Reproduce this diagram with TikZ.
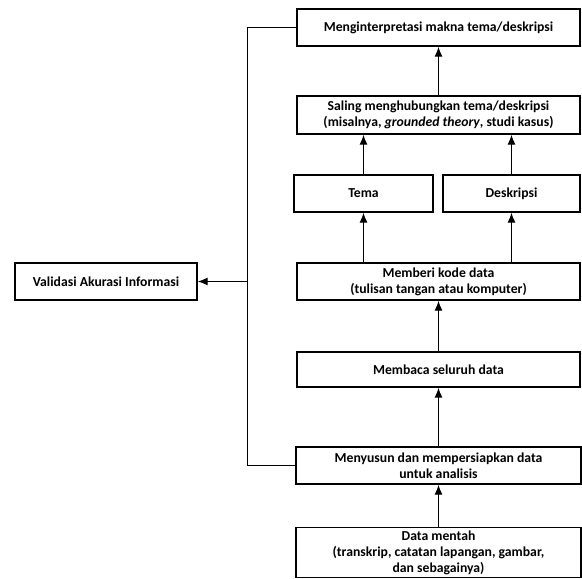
\documentclass[tikz,border=0pt]{standalone}
\usepackage{fontspec}
\setmainfont{Carlito}
\usetikzlibrary{positioning,arrows.meta}

\begin{document}
\begin{tikzpicture}[x=1pt,y=1pt,
    block/.style={rectangle,draw,line width=1.3pt,minimum width=283pt,
		minimum height=37pt,align=center,inner sep=2pt,
		font=\fontsize{13.7}{16}\selectfont\bfseries},
% Arrow style
    link/.style={->,line width=1.2pt},
    ]
   \useasboundingbox (0,0) rectangle (582,579);
%%% Draw analysis steps
   \begin{scope}[node distance=1cm,on grid,>={Latex[length=10pt,width=8pt]}]
       \node [block] (interp) at (438.5,551.5) {Menginterpretasi makna tema/deskripsi};
       \node [block,minimum height=38pt] (saling) [below=87.5pt of interp] {Saling menghubungkan tema/deskripsi\\(misalnya, \textit{grounded theory}, studi kasus)};
       \node [block,minimum width=139pt] (tema) [below left=78.5pt and 75pt of saling] {Tema};
       \node [block,minimum width=137pt] (deskripsi) [below right=78.5pt and 73pt of saling] {Deskripsi};
       \node [block] (kode) [below=166.5pt of saling] {Memberi kode data\\(tulisan tangan atau komputer)};
       \node [block,minimum height=35pt] (baca) [below=88pt of kode] {Membaca seluruh data};
       \node [block,minimum width=285pt] (susun) [below=96pt of baca] {Menyusun dan mempersiapkan data\\untuk analisis};
       \node [block,minimum width=285pt,minimum height=50pt] (mentah) [below=87pt of susun] {Data mentah\\(transkrip, catatan lapangan, gambar,\\dan sebagainya)};
       \node [block,minimum width=182pt] (valid) at (106,297.5) {Validasi Akurasi Informasi};

       \draw[link] (mentah) -- (susun);
       \draw[link] (susun) -- (baca);
       \draw[link] (baca) -- (kode);
       \draw[link] (kode.north -| tema) -- (tema);
       \draw[link] (kode.north -| deskripsi) -- (deskripsi);
       \draw[link] (tema) -- (saling.south -| tema);
       \draw[link] (deskripsi) -- (saling.south -| deskripsi);
       \draw[link] (saling) -- (interp);
       \draw[line width=1.2pt] (interp.west) -- ++(-49,0) coordinate (lt) |- (susun.west);
       \draw[link] (lt |- valid.east) -- (valid.east);
   \end{scope}
\end{tikzpicture}
\end{document}
